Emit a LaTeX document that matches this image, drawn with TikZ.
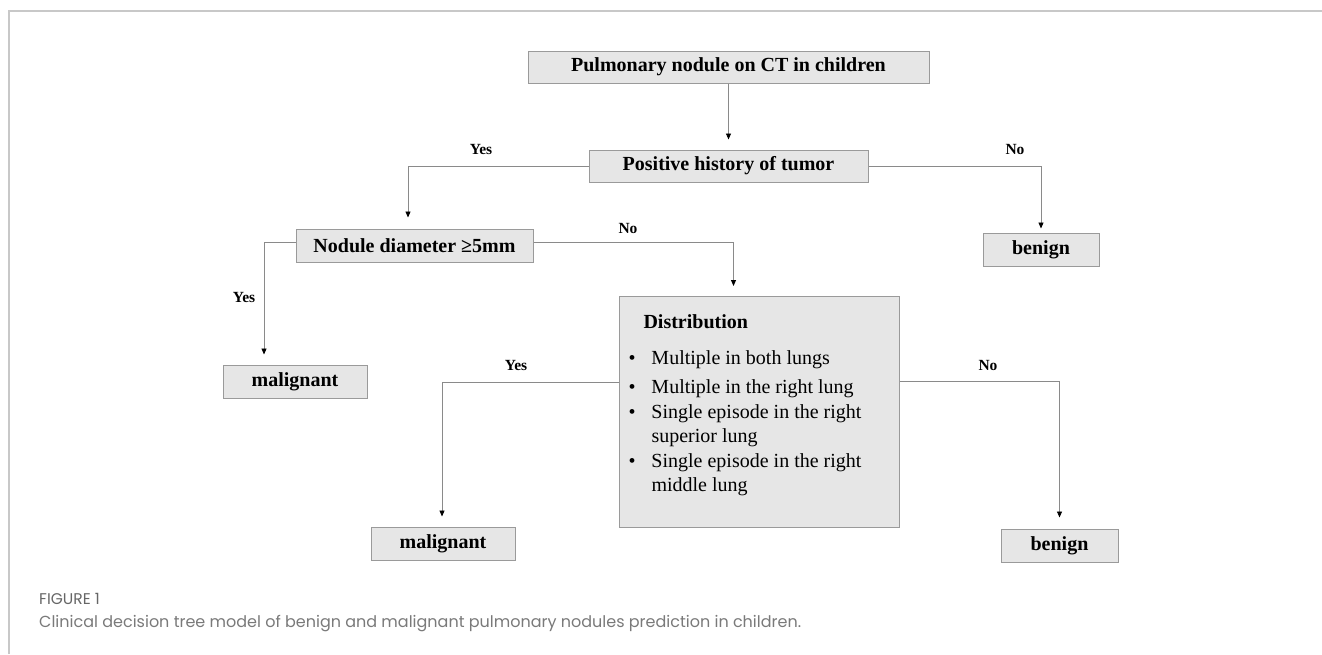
\documentclass[tikz,border=0pt]{standalone}
\usepackage{fontspec}
\setmainfont{Liberation Serif}
\newfontfamily\capfont{Poppins}
\usetikzlibrary{arrows.meta}
\definecolor{boxfill}{HTML}{E6E6E6}
\definecolor{boxdraw}{HTML}{9A9A9A}
\definecolor{linecol}{HTML}{8A8A8A}
\definecolor{framecol}{HTML}{C8C8C8}
\definecolor{capcol}{HTML}{7A7A7A}
\definecolor{figcol}{HTML}{666666}
\tikzset{
  box/.style={draw=boxdraw, fill=boxfill, line width=1pt, inner sep=0pt,
    font=\fontsize{20}{24}\selectfont\bfseries},
  conn/.style={draw=linecol, line width=0.9pt},
  arr/.style={conn, -{Triangle[length=6pt,width=5pt,color=black]}},
  lbl/.style={font=\fontsize{15.5}{18}\selectfont\bfseries, inner sep=0pt},
}
\begin{document}
\begin{tikzpicture}[x=1pt,y=-1pt]
\useasboundingbox (0,0) rectangle (1322,654);
\fill[white] (0,0) rectangle (1322,654);
% frame
\draw[framecol, line width=1.2pt] (9,654) -- (9,11) -- (1322,11);

% nodes
\node[box, minimum width=401pt, minimum height=32pt] (b1) at (728.5,67) {Pulmonary nodule on CT in children};
\node[box, minimum width=279pt, minimum height=32pt] (b2) at (728.5,166) {Positive history of tumor};
\node[box, minimum width=237pt, minimum height=33pt] (b3) at (414.5,245.5) {Nodule diameter ≥5mm};
\node[box, minimum width=116pt, minimum height=33pt] (ben1) at (1041,249.5) {benign};
\node[box, minimum width=144pt, minimum height=33pt] (mal1) at (295,381.5) {malignant};
\node[box, minimum width=144pt, minimum height=33pt] (mal2) at (443,543.5) {malignant};
\node[box, minimum width=117pt, minimum height=33pt] (ben2) at (1059.5,545.5) {benign};
\node[box, anchor=north west, font=\fontsize{20}{24.5}\selectfont, align=left] (dist) at (619,296)
{\begin{minipage}[t][231pt][t]{280pt}%
\fontsize{20}{24.5}\selectfont
\rule{0pt}{32pt}\hspace*{24pt}\textbf{Distribution}\\[11.5pt]
\hspace*{9pt}\makebox[23pt][l]{\textbullet}Multiple in both lungs\\[4.5pt]
\hspace*{9pt}\makebox[23pt][l]{\textbullet}Multiple in the right lung\\
\hspace*{9pt}\makebox[23pt][l]{\textbullet}Single episode in the right\\
\hspace*{32pt}superior lung\\
\hspace*{9pt}\makebox[23pt][l]{\textbullet}Single episode in the right\\
\hspace*{32pt}middle lung
\end{minipage}};

% connectors
\draw[arr] (b1.south) -- ([yshift=10pt]b2.north);
\draw[arr] (b2.west) -| ([xshift=-6.5pt,yshift=11pt]b3.north);
\draw[arr] (b2.east) -| ([yshift=4pt]ben1.north);
\draw[arr] ([yshift=3pt]b3.west) -| ([xshift=-31pt,yshift=10pt]mal1.north);
\draw[arr] ([yshift=3pt]b3.east) -| ([xshift=-26pt,yshift=10pt]dist.north);
\draw[arr] ([yshift=29.5pt]dist.west) -| ([xshift=-1pt,yshift=10pt]mal2.north);
\draw[arr] ([yshift=30.5pt]dist.east) -| ([yshift=11pt]ben2.north);

% labels
\node[lbl] (yes1) at (481,149) {Yes};
\node[lbl] (no1) at (1015,149) {No};
\node[lbl] (no2) at (628,228) {No};
\node[lbl] (yes2) at (244,297) {Yes};
\node[lbl] (yes3) at (516,365) {Yes};
\node[lbl] (no3) at (988,365) {No};

% caption
\node[anchor=base west, inner sep=0pt, font=\capfont\fontsize{15.5}{18}\selectfont, text=figcol] (fig) at (39,604) {FIGURE 1};
\node[anchor=base west, inner sep=0pt, font=\capfont\fontsize{16}{19}\selectfont, text=capcol] (cap) at (39,627) {Clinical decision tree model of benign and malignant pulmonary nodules prediction in children.};
\end{tikzpicture}
\end{document}
